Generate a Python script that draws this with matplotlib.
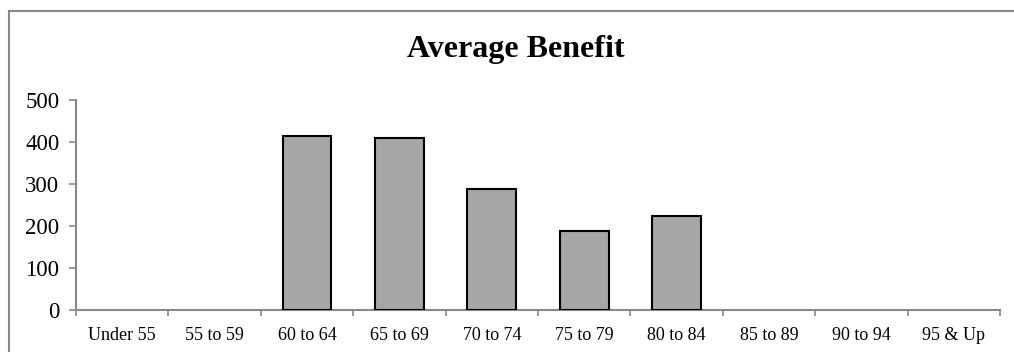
import matplotlib
matplotlib.use("Agg")
import matplotlib.pyplot as plt
from matplotlib.lines import Line2D

categories = ["Under 55", "55 to 59", "60 to 64", "65 to 69", "70 to 74",
              "75 to 79", "80 to 84", "85 to 89", "90 to 94", "95 & Up"]
values = [0, 0, 415, 410, 287, 188, 225, 0, 0, 0]
yticks = [0, 100, 200, 300, 400, 500]

plt.rcParams['font.family'] = ['Liberation Serif', 'DejaVu Serif']

W, H = 1014, 352
fig = plt.figure(figsize=(W / 100, H / 100), dpi=100)
ax = fig.add_axes([76 / W, 1 - 310 / H, (1000 - 76) / W, 210 / H])

x = list(range(len(categories)))
bars = ax.bar(x, values, width=0.53, color="#A6A6A6", edgecolor="black", linewidth=1.5, zorder=3)
for b, v in zip(bars, values):
    if v == 0:
        b.set_visible(False)
ax.set_xlim(-0.5, len(categories) - 0.5)
ax.set_ylim(0, 500)
ax.set_yticks(yticks)
ax.set_yticklabels([str(t) for t in yticks], fontsize=16.5)
ax.set_xticks(x)
ax.set_xticklabels(categories, fontsize=13)
ax.set_xticks([i - 0.5 for i in range(len(categories) + 1)], minor=True)
ax.tick_params(axis='x', which='major', length=0, pad=12)
ax.tick_params(axis='x', which='minor', length=4, color="#888888", width=1.2, direction='out')
ax.tick_params(axis='y', length=5, color="#888888", width=1.2, pad=7)
for s in ["top", "right"]:
    ax.spines[s].set_visible(False)
for s in ["left", "bottom"]:
    ax.spines[s].set_color("#888888")
    ax.spines[s].set_linewidth(1.5)

fig.text(516 / W, 1 - 49 / H, "Average Benefit", ha="center", va="center",
         fontsize=23, fontweight="bold")
fig.lines.append(Line2D([8.5 / W, 1], [1 - 10.5 / H, 1 - 10.5 / H], transform=fig.transFigure,
                        color="#888888", linewidth=1.5))
fig.lines.append(Line2D([8.5 / W, 8.5 / W], [0, 1 - 10.5 / H], transform=fig.transFigure,
                        color="#888888", linewidth=1.5))
fig.savefig("out.png", dpi=100)
